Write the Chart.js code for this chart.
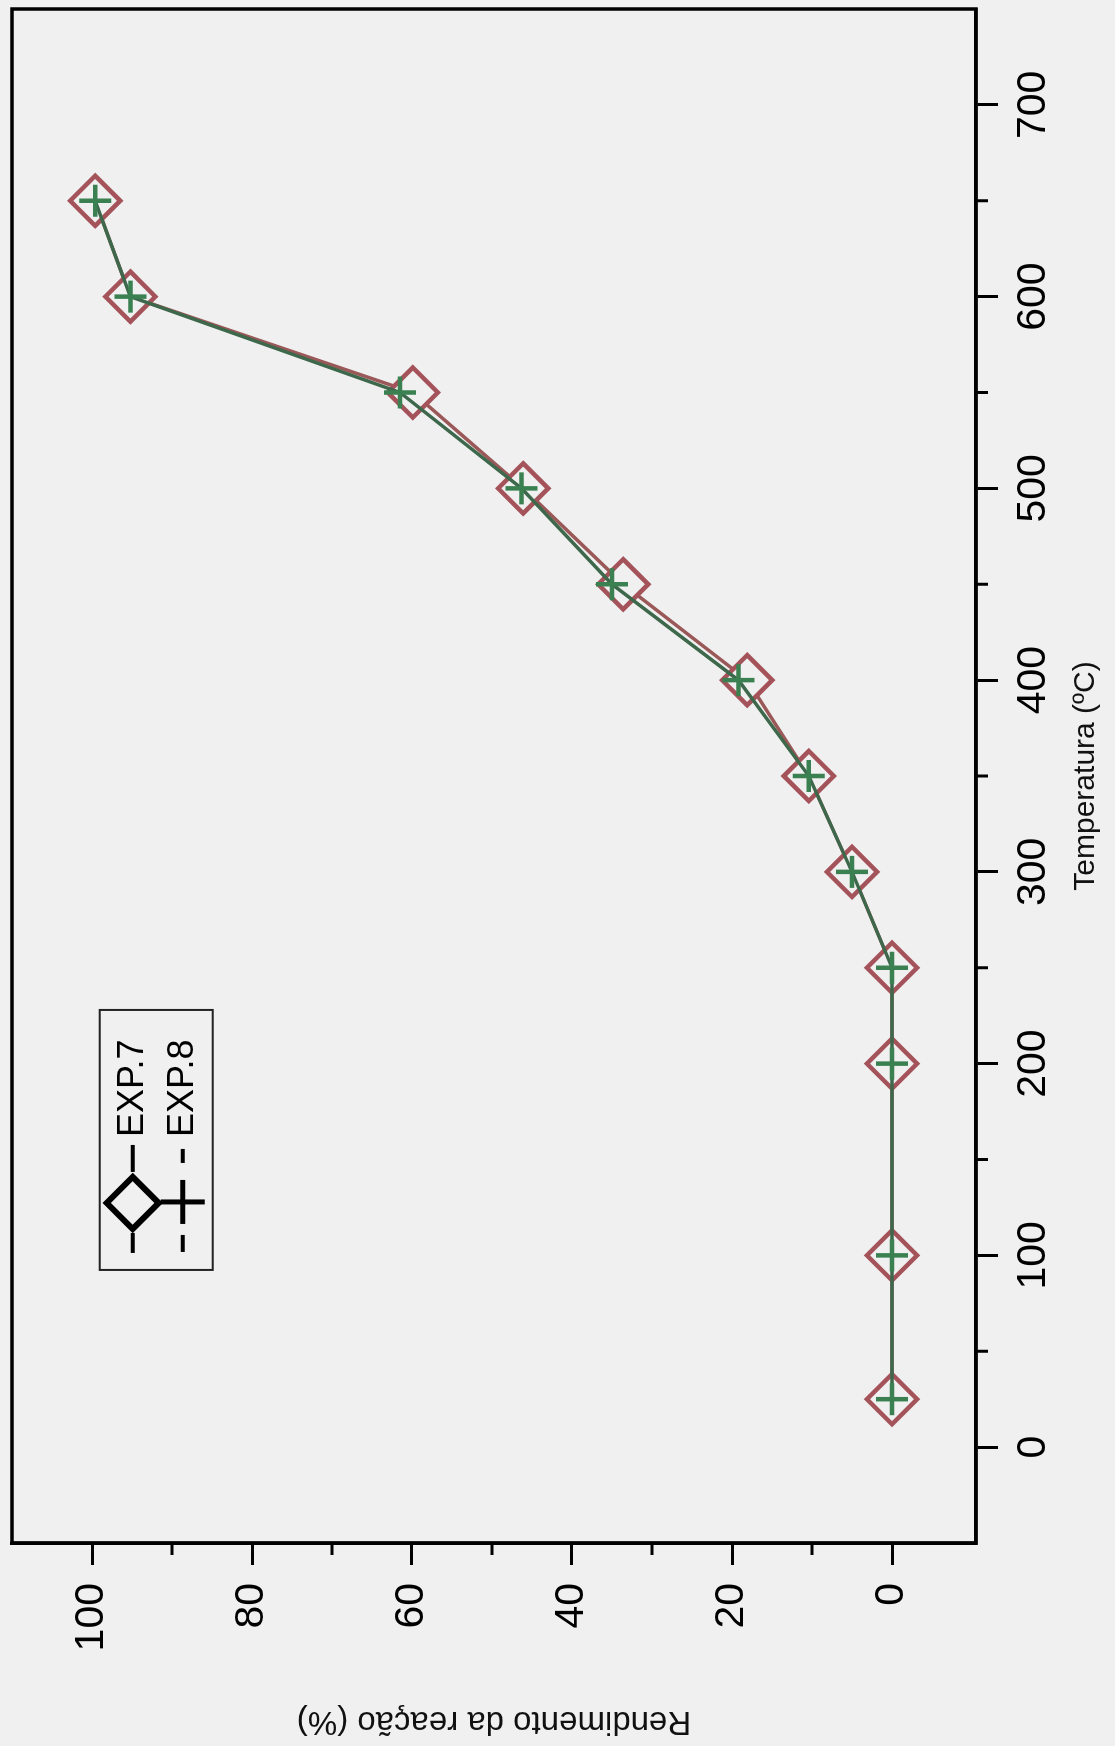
<!DOCTYPE html>
<html>
<head>
<meta charset="utf-8">
<script src="https://cdn.jsdelivr.net/npm/chart.js@4/dist/chart.umd.min.js"></script>
<style>
  html, body { margin: 0; padding: 0; background: #f0f0f0; overflow: hidden; }
  #wrap {
    position: absolute; left: 0; top: 0;
    width: 1746px; height: 1115px;
    transform-origin: 0 0;
    transform: translate(0, 1746px) rotate(-90deg);
  }
  canvas { display: block; }
</style>
</head>
<body>
<div id="wrap"><canvas id="c" width="1746" height="1115"></canvas></div>
<script>
// ---- data ----
const temperatures = [25, 100, 200, 250, 300, 350, 400, 450, 500, 550, 600, 650];
const exp7 = [0, 0, 0, 0, 5.0, 10.4, 18.1, 33.6, 46.1, 59.9, 95.2, 99.6];
const exp8 = [0, 0, 0, 0, 5.0, 10.4, 19.2, 35.0, 46.3, 61.5, 95.2, 99.6];
const seriesNames = ['EXP.7', 'EXP.8'];
const tempTicks = [0, 100, 200, 300, 400, 500, 600, 700];
const tempMinor = [50, 150, 250, 350, 450, 550, 650];
const yieldTicks = [0, 20, 40, 60, 80, 100];
const yieldMinor = [10, 30, 50, 70, 90];
const xTitle = 'Temperatura (ºC)';
const yTitle = 'Rendimento da reação (%)';

const BG = '#f0f0f0';
const FONT = "'Liberation Sans', Arial, sans-serif";

const decor = {
  id: 'decor',
  beforeDraw(chart) {
    const ctx = chart.ctx;
    ctx.save();
    ctx.fillStyle = BG;
    ctx.fillRect(0, 0, chart.width, chart.height);
    ctx.restore();
  },
  afterDraw(chart) {
    const {ctx, chartArea: a, scales: {x, y}} = chart;
    ctx.save();
    ctx.strokeStyle = '#000';
    ctx.lineWidth = 3;
    tempMinor.forEach(v => {
      const px = x.getPixelForValue(v);
      ctx.beginPath(); ctx.moveTo(px, a.bottom); ctx.lineTo(px, a.bottom + 12); ctx.stroke();
    });
    yieldMinor.forEach(v => {
      const py = y.getPixelForValue(v);
      ctx.beginPath(); ctx.moveTo(a.left, py); ctx.lineTo(a.left - 12, py); ctx.stroke();
    });
    ctx.lineWidth = 3.5;
    ctx.strokeRect(a.left, a.top, a.right - a.left, a.bottom - a.top);

    // legend
    const bx = a.left + (a.right - a.left) * 0.178;
    const by = a.top + (a.bottom - a.top) * 0.091;
    const bw = 260, bh = 113;
    ctx.fillStyle = BG;
    ctx.fillRect(bx, by, bw, bh);
    ctx.lineWidth = 2;
    ctx.strokeStyle = '#222';
    ctx.strokeRect(bx, by, bw, bh);
    ctx.strokeStyle = '#000';
    ctx.fillStyle = '#000';
    // EXP.7 row
    let cy = by + 33;
    ctx.lineWidth = 4;
    ctx.beginPath();
    ctx.moveTo(bx + 17, cy); ctx.lineTo(bx + 37, cy);
    ctx.moveTo(bx + 98, cy); ctx.lineTo(bx + 125, cy);
    ctx.stroke();
    const dx = bx + 67, r = 26;
    ctx.lineWidth = 6;
    ctx.beginPath();
    ctx.moveTo(dx - r, cy); ctx.lineTo(dx, cy - r); ctx.lineTo(dx + r, cy); ctx.lineTo(dx, cy + r);
    ctx.closePath();
    ctx.stroke();
    // EXP.8 row
    cy = by + 83;
    ctx.lineWidth = 4;
    ctx.beginPath();
    ctx.moveTo(bx + 18, cy); ctx.lineTo(bx + 35, cy);
    ctx.moveTo(bx + 107, cy); ctx.lineTo(bx + 121, cy);
    ctx.stroke();
    ctx.lineWidth = 5;
    ctx.beginPath();
    ctx.moveTo(dx + 1 - 22, cy); ctx.lineTo(dx + 1 + 22, cy);
    ctx.moveTo(dx + 1, cy - 22); ctx.lineTo(dx + 1, cy + 22);
    ctx.stroke();
    ctx.font = '36px ' + FONT;
    ctx.textBaseline = 'middle';
    ctx.textAlign = 'left';
    ctx.fillText(seriesNames[0], bx + 133, by + 33);
    ctx.fillText(seriesNames[1], bx + 133, by + 83);
    ctx.restore();
  }
};

const tickFont = { family: FONT, size: 41 };
const noPad = s => { s.paddingTop = 0; s.paddingBottom = 0; s.paddingLeft = 0; s.paddingRight = 0; };

new Chart(document.getElementById('c'), {
  type: 'line',
  data: {
    datasets: [
      {
        label: seriesNames[0],
        data: temperatures.map((t, i) => ({ x: t, y: exp7[i] })),
        borderColor: '#9a5858',
        borderWidth: 3.5,
        pointStyle: 'rectRot',
        pointRadius: 25,
        pointBorderWidth: 4.5,
        pointBorderColor: '#a5535a',
        pointBackgroundColor: BG,
        tension: 0,
        clip: false,
        order: 2
      },
      {
        label: seriesNames[1],
        data: temperatures.map((t, i) => ({ x: t, y: exp8[i] })),
        borderColor: '#3e684b',
        borderWidth: 3.5,
        pointStyle: 'cross',
        pointRadius: 16,
        pointBorderWidth: 4.5,
        pointBorderColor: '#3a8050',
        pointBackgroundColor: '#3a8050',
        tension: 0,
        clip: false,
        order: 1
      }
    ]
  },
  options: {
    responsive: false,
    animation: false,
    devicePixelRatio: 1,
    layout: { autoPadding: false, padding: { top: 12, right: 9, left: 0, bottom: 0 } },
    plugins: { legend: { display: false }, tooltip: { enabled: false } },
    scales: {
      x: {
        type: 'linear',
        position: 'bottom',
        min: -50, max: 750,
        afterBuildTicks: s => { s.ticks = tempTicks.map(v => ({ value: v })); },
        afterFit: s => { s.height = 139; noPad(s); },
        ticks: { font: tickFont, color: '#000', padding: 11, maxRotation: 0, callback: v => String(v) },
        grid: { display: true, drawOnChartArea: false, drawTicks: true, tickLength: 22, tickWidth: 3, tickColor: '#000' },
        border: { display: true, color: '#000', width: 3.5 },
        title: { display: true, text: xTitle, color: '#111', font: { family: FONT, size: 30 }, padding: { top: 0, bottom: 11 } }
      },
      y: {
        type: 'linear',
        position: 'left',
        min: -10.5, max: 110,
        afterBuildTicks: s => { s.ticks = yieldTicks.map(v => ({ value: v })); },
        afterFit: s => { s.width = 203; noPad(s); },
        ticks: { font: tickFont, color: '#000', padding: 18, callback: v => String(v) },
        grid: { display: true, drawOnChartArea: false, drawTicks: true, tickLength: 22, tickWidth: 3, tickColor: '#000' },
        border: { display: true, color: '#000', width: 3.5 },
        title: { display: true, text: yTitle, color: '#111', font: { family: FONT, size: 33 }, padding: { top: 5, bottom: 0 } }
      }
    }
  },
  plugins: [decor]
});
</script>
</body>
</html>
